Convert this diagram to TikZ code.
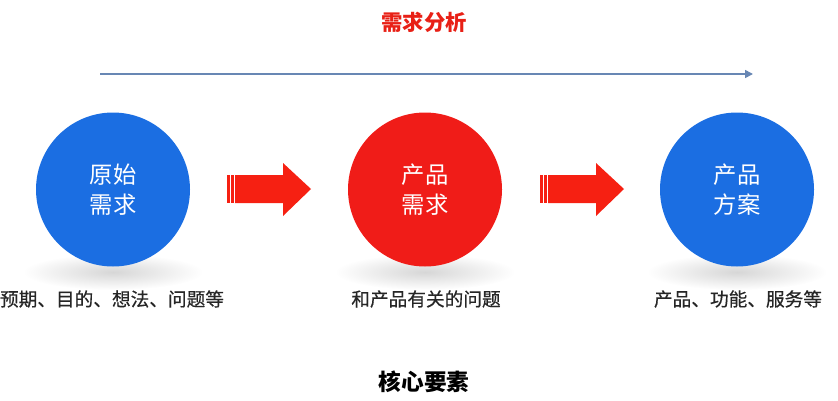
\documentclass[tikz,border=0pt]{standalone}
\usepackage{fontspec}
\setmainfont{Noto Sans CJK SC}
\newfontfamily\capfont[FakeBold=0.5]{Noto Sans CJK SC}
\usetikzlibrary{arrows.meta}
\definecolor{cblue}{RGB}{27,110,226}
\definecolor{cred}{RGB}{240,28,24}
\definecolor{ared}{RGB}{246,32,18}
\definecolor{tred}{RGB}{232,32,22}
\definecolor{lineblue}{RGB}{104,135,180}
\tikzset{
  ball/.style={circle,minimum size=115.5pt,inner sep=0pt,align=center,text=white,
    font=\fontsize{17.5}{22.5}\selectfont},
  bluebal/.style={ball,fill=cblue},
  redbal/.style={ball,fill=cred},
  caption/.style={font=\capfont\fontsize{14}{16}\selectfont,text=black!85,anchor=center},
  heading/.style={font=\fontsize{16}{18}\selectfont\bfseries},
  shadowell/.style={inner color=black!16,outer color=white},
  pics/blockarrow/.style={code={
    \fill[ared] (0,-14) rectangle (2.5,14);
    \fill[ared] (4,-14) rectangle (6.5,14);
    \fill[ared] (8,-14) -- (56,-14) -- (56,-26) -- (84,0) -- (56,27) -- (56,14) -- (8,14) -- cycle;
  }}
}
\begin{document}
\begin{tikzpicture}[x=0.75pt,y=-0.75pt]
\useasboundingbox (0,0) rectangle (838,400);
% title and timeline
\node[heading,text=tred] (title) at (424,22) {需求分析};
\coordinate (tl0) at (100,74);
\coordinate (tl1) at (753,74);
\draw[lineblue,line width=1.2pt,-{Triangle[length=6pt,width=6pt]}] (tl0) -- (tl1);
% shadows
\foreach \x in {113,425,737}{
  \shade[shadowell] (\x,272) ellipse [x radius=90,y radius=18];
}
% circles
\node[bluebal] (c1) at (113,189.5) {原始\\需求};
\node[redbal]  (c2) at (425,189.5) {产品\\需求};
\node[bluebal] (c3) at (737,189.5) {产品\\方案};
% block arrows
\pic (a1) at (227,189) {blockarrow};
\pic (a2) at (540,189) {blockarrow};
% captions
\node[caption] (l1) at (112,299) {预期、目的、想法、问题等};
\node[caption] (l2) at (426,299) {和产品有关的问题};
\node[caption] (l3) at (738,299) {产品、功能、服务等};
\node[heading,text=black,font=\fontsize{17}{20}\selectfont\bfseries] (core) at (424,382) {核心要素};
\end{tikzpicture}
\end{document}
